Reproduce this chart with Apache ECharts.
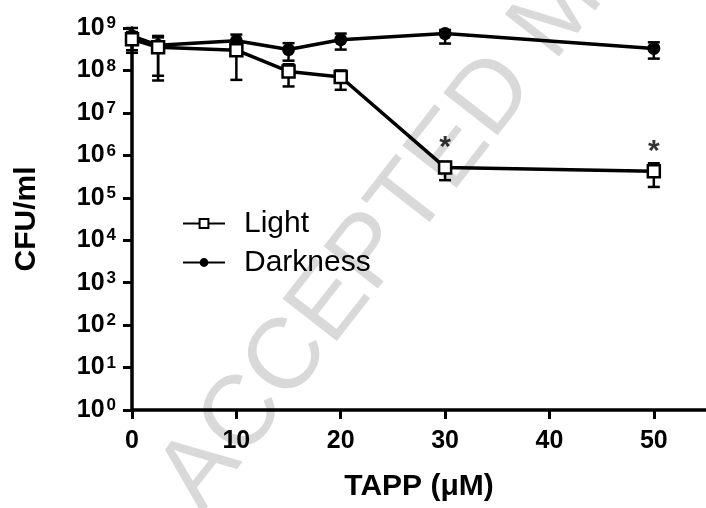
<!DOCTYPE html>
<html>
<head>
<meta charset="utf-8">
<script src="https://cdn.jsdelivr.net/npm/echarts@6/dist/echarts.min.js"></script>
<style>html,body{margin:0;padding:0;background:#fff}#c{width:706px;height:508px}</style>
</head>
<body>
<div id="c"></div>
<script>
// TAPP concentration (µM)
const xs = [0, 2.5, 10, 15, 20, 30, 50];
// Light series: mean CFU/ml and error limits
const light   = [5.4e8, 3.5e8, 3.0e8, 9.5e7, 7.0e7, 5.2e5, 4.2e5];
const lightHi = [8.0e8, 6.5e8, 4.5e8, 1.4e8, 1.0e8, 7.0e5, 6.5e5];
const lightLo = [2.6e8, 5.8e7, 6.0e7, 4.2e7, 3.5e7, 2.6e5, 1.8e5];
// Darkness series
const dark   = [6.5e8, 3.9e8, 5.0e8, 3.1e8, 5.3e8, 7.4e8, 3.3e8];
const darkHi = [1.0e9, 6.0e8, 7.0e8, 4.4e8, 7.4e8, 9.0e8, 4.6e8];
const darkLo = [3.0e8, 7.5e7, 3.6e8, 1.7e8, 3.1e8, 4.3e8, 1.9e8];
// significance marks
const sigX = [30, 50];
const sigText = ['*', '*'];
// axis ticks
const xTicks = [0, 10, 20, 30, 40, 50];
const yTicks = [1, 1e1, 1e2, 1e3, 1e4, 1e5, 1e6, 1e7, 1e8, 1e9];

const FONT = '"Liberation Sans", Arial, sans-serif';
const chart = echarts.init(document.getElementById('c'), null, {renderer: 'canvas'});

function errData(lo, hi) { return xs.map((x, i) => [x, lo[i], hi[i]]); }
function errRender(params, api) {
  const x = api.value(0);
  const a = api.coord([x, api.value(1)]);
  const b = api.coord([x, api.value(2)]);
  const w = 6;
  const st = {stroke: '#000', lineWidth: 2.5};
  return {type: 'group', children: [
    {type: 'line', shape: {x1: a[0], y1: a[1], x2: b[0], y2: b[1]}, style: st},
    {type: 'line', shape: {x1: a[0] - w, y1: a[1], x2: a[0] + w, y2: a[1]}, style: st},
    {type: 'line', shape: {x1: b[0] - w, y1: b[1], x2: b[0] + w, y2: b[1]}, style: st}
  ]};
}

const option = {
  animation: false,
  backgroundColor: '#fff',
  graphic: [{
    type: 'text', x: 180, y: 497, rotation: 52 * Math.PI / 180, z: -100, silent: true,
    style: {text: 'ACCEPTED MANUSCRIPT', fill: '#d9d9d9', font: '100px ' + FONT, align: 'left', verticalAlign: 'middle'}
  }],
  grid: {left: 132, right: 0, top: 28, bottom: 98, containLabel: false},
  legend: {
    orient: 'vertical', left: 177, top: 203, itemGap: 8,
    itemWidth: 42, itemHeight: 11,
    textStyle: {fontFamily: FONT, fontSize: 30, color: '#000', padding: [0, 0, 0, 14], lineHeight: 31},
    data: ['Light', 'Darkness']
  },
  xAxis: {
    type: 'value', min: 0, max: 55, interval: 10,
    name: 'TAPP (\u03bcM)', nameLocation: 'middle', nameGap: 62,
    nameTextStyle: {fontFamily: FONT, fontSize: 30, fontWeight: 'bold', color: '#000'},
    axisLine: {lineStyle: {color: '#000', width: 3.5}},
    axisTick: {show: true, length: 9, lineStyle: {color: '#000', width: 3}, customValues: xTicks},
    axisLabel: {fontFamily: FONT, fontSize: 25, fontWeight: 'bold', color: '#000', margin: 19, customValues: xTicks},
    splitLine: {show: false}
  },
  yAxis: {
    type: 'log', logBase: 10, min: 1, max: 1e9,
    name: 'CFU/ml', nameLocation: 'middle', nameGap: 90,
    nameTextStyle: {fontFamily: FONT, fontSize: 30, fontWeight: 'bold', color: '#000'},
    axisLine: {show: true, lineStyle: {color: '#000', width: 3.5}},
    axisTick: {show: true, length: 9, lineStyle: {color: '#000', width: 3}, customValues: yTicks},
    axisLabel: {
      margin: 16, customValues: yTicks,
      formatter: function (v) { return '{b|10}{s|' + Math.round(Math.log10(v)) + '}'; },
      rich: {
        b: {fontFamily: FONT, fontSize: 25, fontWeight: 'bold', color: '#000', lineHeight: 26},
        s: {fontFamily: FONT, fontSize: 17, fontWeight: 'bold', color: '#000', verticalAlign: 'top', lineHeight: 26, padding: [0, 0, 8, 2]}
      }
    },
    splitLine: {show: false}
  },
  series: [
    {type: 'custom', name: 'darkErr', renderItem: errRender, data: errData(darkLo, darkHi), encode: {x: 0, y: [1, 2]}, z: 1, silent: true},
    {type: 'custom', name: 'lightErr', renderItem: errRender, data: errData(lightLo, lightHi), encode: {x: 0, y: [1, 2]}, z: 1, silent: true},
    {
      type: 'line', name: 'Darkness', data: xs.map((x, i) => [x, dark[i]]),
      symbol: 'circle', symbolSize: 13, showAllSymbol: true,
      lineStyle: {color: '#000', width: 3.5}, itemStyle: {color: '#000', borderColor: '#000', borderWidth: 0}, z: 3
    },
    {
      type: 'line', name: 'Light', data: xs.map((x, i) => [x, light[i]]),
      symbol: 'rect', symbolSize: 12, showAllSymbol: true,
      lineStyle: {color: '#000', width: 3.5}, itemStyle: {color: '#fff', borderColor: '#000', borderWidth: 2.5}, z: 4
    },
    {
      type: 'scatter', name: 'sig', symbolSize: 1, itemStyle: {color: 'rgba(0,0,0,0)'}, silent: true, z: 5,
      data: sigX.map((x, i) => ({value: [x, light[xs.indexOf(x)]], label: {formatter: sigText[i]}})),
      label: {show: true, position: 'inside', offset: [0, -20], fontFamily: FONT, fontSize: 30, fontWeight: 'bold', color: '#000'}
    }
  ]
};
chart.setOption(option);
</script>
</body>
</html>
